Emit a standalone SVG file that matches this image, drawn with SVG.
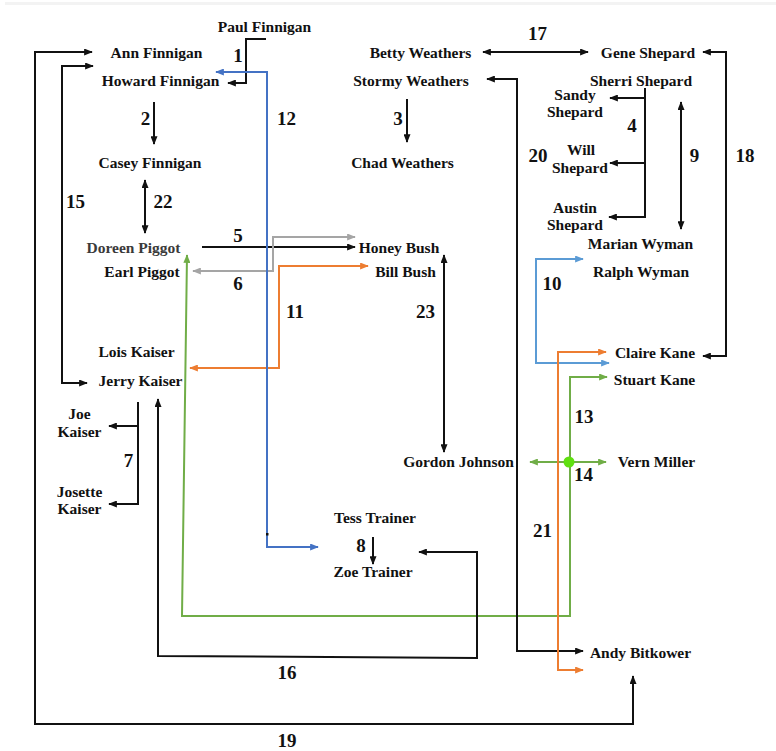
<svg xmlns="http://www.w3.org/2000/svg" width="776" height="751" viewBox="0 0 776 751">
  <defs>
    <style>
      .lbl { font-family: "Liberation Serif", "Times New Roman", serif; font-weight: bold; font-size: 15.5px; fill: #111; text-anchor: middle; }
      .num { font-family: "Liberation Serif", "Times New Roman", serif; font-weight: bold; font-size: 19px; fill: #111; text-anchor: middle; }
      .ln { fill: none; stroke-width: 2; stroke-linejoin: miter; }
      .k { stroke: #111; }
      .blue { stroke: #4472C4; }
      .lblue { stroke: #5B9BD5; }
      .orange { stroke: #ED7D31; }
      .green { stroke: #70AD47; }
      .grey { stroke: #A5A5A5; }
    </style>
    <marker id="ak" viewBox="0 0 10 8" refX="9" refY="4" markerWidth="9" markerHeight="7" markerUnits="userSpaceOnUse" orient="auto-start-reverse"><path d="M0,0 L10,4 L0,8 z" fill="#111"/></marker>
    <marker id="ab" viewBox="0 0 10 8" refX="9" refY="4" markerWidth="9" markerHeight="7" markerUnits="userSpaceOnUse" orient="auto-start-reverse"><path d="M0,0 L10,4 L0,8 z" fill="#4472C4"/></marker>
    <marker id="alb" viewBox="0 0 10 8" refX="9" refY="4" markerWidth="9" markerHeight="7" markerUnits="userSpaceOnUse" orient="auto-start-reverse"><path d="M0,0 L10,4 L0,8 z" fill="#5B9BD5"/></marker>
    <marker id="ao" viewBox="0 0 10 8" refX="9" refY="4" markerWidth="9" markerHeight="7" markerUnits="userSpaceOnUse" orient="auto-start-reverse"><path d="M0,0 L10,4 L0,8 z" fill="#ED7D31"/></marker>
    <marker id="ag" viewBox="0 0 10 8" refX="9" refY="4" markerWidth="9" markerHeight="7" markerUnits="userSpaceOnUse" orient="auto-start-reverse"><path d="M0,0 L10,4 L0,8 z" fill="#70AD47"/></marker>
    <marker id="agr" viewBox="0 0 10 8" refX="9" refY="4" markerWidth="9" markerHeight="7" markerUnits="userSpaceOnUse" orient="auto-start-reverse"><path d="M0,0 L10,4 L0,8 z" fill="#A5A5A5"/></marker>
  </defs>

  <rect x="0" y="0" width="776" height="751" fill="#fff"/>
  <rect x="5" y="2" width="771" height="3" fill="#f3f3f3"/>

  <!-- connectors -->
  <g id="connectors">
    <path id="c1" class="ln k" d="M266,39 H246 V83 H228" marker-end="url(#ak)"/>
    <path id="c2" class="ln k" d="M154,102 V144" marker-end="url(#ak)"/>
    <path id="c3" class="ln k" d="M407,99 V142" marker-end="url(#ak)"/>
    <path id="c4a" class="ln k" d="M645,88 V217 H609" marker-end="url(#ak)"/>
    <path id="c4b" class="ln k" d="M645,98 H610" marker-end="url(#ak)"/>
    <path id="c4c" class="ln k" d="M645,163 H610" marker-end="url(#ak)"/>
    <path id="c5" class="ln k" d="M202,247 H355" marker-end="url(#ak)"/>
    <path id="c6" class="ln grey" d="M193,271 H273 V237 H355" marker-start="url(#agr)" marker-end="url(#agr)"/>
    <path id="c7a" class="ln k" d="M138,402 V504 H109" marker-end="url(#ak)"/>
    <path id="c7b" class="ln k" d="M138,426 H109" marker-end="url(#ak)"/>
    <path id="c8" class="ln k" d="M373,537 V564" marker-end="url(#ak)"/>
    <path id="c9" class="ln k" d="M681,102 V229" marker-start="url(#ak)" marker-end="url(#ak)"/>
    <path id="c10" class="ln lblue" d="M583,259 H536 V363 H609" marker-start="url(#alb)" marker-end="url(#alb)"/>
    <path id="c11" class="ln orange" d="M190,368 H279 V266 H368" marker-start="url(#ao)" marker-end="url(#ao)"/>
    <path id="c12" class="ln blue" d="M216,72 H267 V547 H318" marker-start="url(#ab)" marker-end="url(#ab)"/>
    <rect x="266" y="533" width="2.5" height="2.5" fill="#111"/>
    <path id="c13" class="ln green" d="M607,377 H570 V616 H182 L187,255" marker-start="url(#ag)" marker-end="url(#ag)"/>
    <path id="c14" class="ln green" d="M530,462 H606" marker-start="url(#ag)" marker-end="url(#ag)"/>
    <circle cx="569" cy="462" r="5.5" fill="#5FE010"/>
    <path id="c15" class="ln k" d="M93,66 H62 V383 H87" marker-start="url(#ak)" marker-end="url(#ak)"/>
    <path id="c16" class="ln k" d="M419,552 H477 V658 L158,656 V399" marker-start="url(#ak)" marker-end="url(#ak)"/>
    <path id="c17" class="ln k" d="M483,52 H588" marker-start="url(#ak)" marker-end="url(#ak)"/>
    <path id="c18" class="ln k" d="M703,52 H726 V356 H703" marker-start="url(#ak)" marker-end="url(#ak)"/>
    <path id="c19" class="ln k" d="M92,52 H35 V724 H633 V676" marker-start="url(#ak)" marker-end="url(#ak)"/>
    <path id="c20" class="ln k" d="M487,79 H517 V651 H583" marker-start="url(#ak)" marker-end="url(#ak)"/>
    <path id="c21" class="ln orange" d="M606,352 H558 V670 H583" marker-start="url(#ao)" marker-end="url(#ao)"/>
    <path id="c22" class="ln k" d="M145,180 V233" marker-start="url(#ak)" marker-end="url(#ak)"/>
    <path id="c23" class="ln k" d="M444,255 V452" marker-start="url(#ak)" marker-end="url(#ak)"/>
  </g>

  <!-- connector numbers -->
  <g id="numbers">
    <text class="num" x="238" y="62">1</text>
    <text class="num" x="145.5" y="125">2</text>
    <text class="num" x="398" y="125">3</text>
    <text class="num" x="632" y="132">4</text>
    <text class="num" x="238" y="242">5</text>
    <text class="num" x="238" y="290">6</text>
    <text class="num" x="128.5" y="467">7</text>
    <text class="num" x="361" y="552">8</text>
    <text class="num" x="694.5" y="162">9</text>
    <text class="num" x="552" y="290">10</text>
    <text class="num" x="295" y="318">11</text>
    <text class="num" x="286.5" y="125">12</text>
    <text class="num" x="584" y="423">13</text>
    <text class="num" x="583.5" y="481">14</text>
    <text class="num" x="75.5" y="208">15</text>
    <text class="num" x="287" y="679">16</text>
    <text class="num" x="537.5" y="40">17</text>
    <text class="num" x="745" y="162">18</text>
    <text class="num" x="287" y="747">19</text>
    <text class="num" x="538" y="162">20</text>
    <text class="num" x="542.5" y="537">21</text>
    <text class="num" x="163" y="208">22</text>
    <text class="num" x="425.5" y="318">23</text>
  </g>

  <!-- people -->
  <g id="paul-finnigan"><text class="lbl" x="264.5" y="31.5">Paul Finnigan</text></g>
  <g id="ann-finnigan"><text class="lbl" x="156.5" y="58">Ann Finnigan</text></g>
  <g id="howard-finnigan"><text class="lbl" x="160.5" y="86">Howard Finnigan</text></g>
  <g id="casey-finnigan"><text class="lbl" x="150" y="168">Casey Finnigan</text></g>
  <g id="betty-weathers"><text class="lbl" x="420.5" y="58">Betty Weathers</text></g>
  <g id="stormy-weathers"><text class="lbl" x="411" y="86">Stormy Weathers</text></g>
  <g id="chad-weathers"><text class="lbl" x="402.5" y="168">Chad Weathers</text></g>
  <g id="gene-shepard"><text class="lbl" x="648" y="58">Gene Shepard</text></g>
  <g id="sherri-shepard"><text class="lbl" x="641" y="86">Sherri Shepard</text></g>
  <g id="sandy-shepard"><text class="lbl" x="575" y="100">Sandy</text><text class="lbl" x="575" y="117">Shepard</text></g>
  <g id="will-shepard"><text class="lbl" x="581" y="155">Will</text><text class="lbl" x="580" y="173">Shepard</text></g>
  <g id="austin-shepard"><text class="lbl" x="575" y="213">Austin</text><text class="lbl" x="575" y="230">Shepard</text></g>
  <g id="marian-wyman"><text class="lbl" x="640.5" y="249">Marian Wyman</text></g>
  <g id="ralph-wyman"><text class="lbl" x="641" y="277">Ralph Wyman</text></g>
  <g id="doreen-piggot"><text class="lbl" x="133.5" y="253" style="fill:#3a3a3a">Doreen Piggot</text></g>
  <g id="earl-piggot"><text class="lbl" x="142" y="277">Earl Piggot</text></g>
  <g id="honey-bush"><text class="lbl" x="399" y="253">Honey Bush</text></g>
  <g id="bill-bush"><text class="lbl" x="405.5" y="277">Bill Bush</text></g>
  <g id="lois-kaiser"><text class="lbl" x="136.5" y="357">Lois Kaiser</text></g>
  <g id="jerry-kaiser"><text class="lbl" x="140.5" y="386">Jerry Kaiser</text></g>
  <g id="claire-kane"><text class="lbl" x="655" y="358">Claire Kane</text></g>
  <g id="stuart-kane"><text class="lbl" x="654.5" y="385">Stuart Kane</text></g>
  <g id="joe-kaiser"><text class="lbl" x="79.5" y="419">Joe</text><text class="lbl" x="79.5" y="437">Kaiser</text></g>
  <g id="josette-kaiser"><text class="lbl" x="79.5" y="497">Josette</text><text class="lbl" x="79.5" y="514">Kaiser</text></g>
  <g id="gordon-johnson"><text class="lbl" x="458.5" y="467">Gordon Johnson</text></g>
  <g id="vern-miller"><text class="lbl" x="656.5" y="467">Vern Miller</text></g>
  <g id="tess-trainer"><text class="lbl" x="375" y="523">Tess Trainer</text></g>
  <g id="zoe-trainer"><text class="lbl" x="373" y="577">Zoe Trainer</text></g>
  <g id="andy-bitkower"><text class="lbl" x="640.5" y="658">Andy Bitkower</text></g>
</svg>
